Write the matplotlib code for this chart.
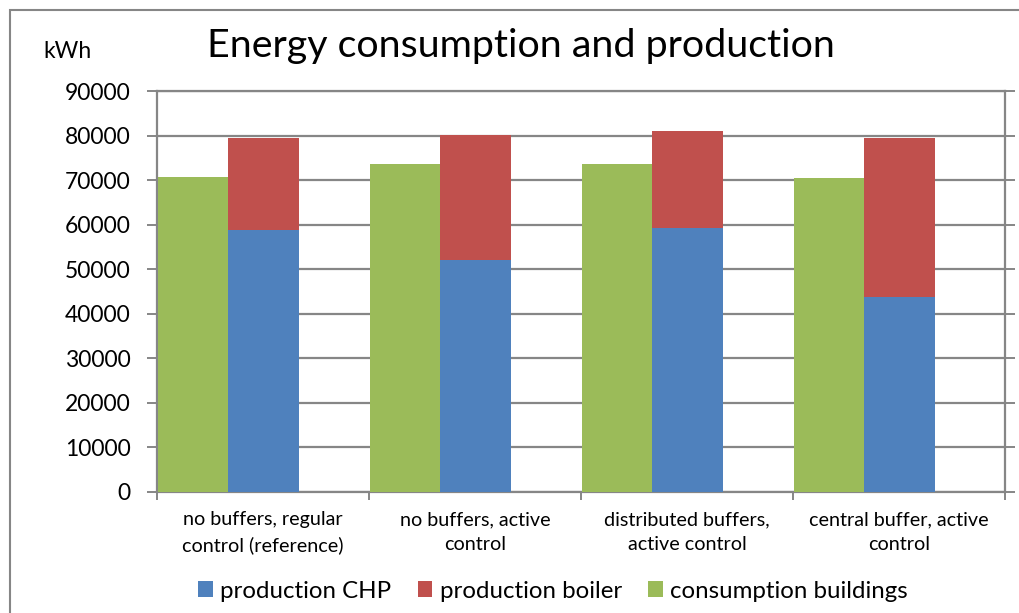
import matplotlib
matplotlib.use("Agg")
import matplotlib.pyplot as plt
from matplotlib.patches import Rectangle
import numpy as np

categories = ["no buffers, regular\ncontrol (reference)", "no buffers, active\ncontrol",
              "distributed buffers,\nactive control", "central buffer, active\ncontrol"]
consumption = [70650, 73650, 73650, 70550]
chp = [58800, 52100, 59200, 43700]
total_prod = [79350, 80100, 81050, 79550]
boiler = [t - c for t, c in zip(total_prod, chp)]
yticks = [0, 10000, 20000, 30000, 40000, 50000, 60000, 70000, 80000, 90000]

C_CHP = "#4F81BD"
C_BOIL = "#C0504D"
C_CONS = "#9BBB59"
GRID = "#868686"

plt.rcParams['font.family'] = ['Lato', 'DejaVu Sans']

W, H = 1020, 613
fig = plt.figure(figsize=(W / 100, H / 100), dpi=100)
L, R, T, B = 157, 1005, 91, 492
ax = fig.add_axes([L / W, 1 - B / H, (R - L) / W, (B - T) / H])

n = len(categories)
x = np.arange(n)
bw = 0.333
ax.bar(x + 0.004, consumption, width=bw, align='edge', color=C_CONS, zorder=3,
       label='consumption buildings')
ax.bar(x + 0.004 + bw, chp, width=bw, align='edge', color=C_CHP, zorder=3,
       label='production CHP')
ax.bar(x + 0.004 + bw, boiler, bottom=chp, width=bw, align='edge', color=C_BOIL, zorder=3,
       label='production boiler')

ax.set_xlim(0, n)
ax.set_ylim(0, 90000)
ax.set_yticks(yticks)
ax.set_yticklabels([str(v) for v in yticks], fontsize=16.5)
ax.yaxis.grid(True, color=GRID, linewidth=1.6, zorder=0)
ax.set_axisbelow(True)
ax.set_xticks(np.arange(n + 1))
ax.set_xticklabels([])
ax.set_xticks(x + 0.5, minor=True)
ax.set_xticklabels(categories, minor=True, fontsize=14.2, linespacing=1.55)
ax.tick_params(axis='x', which='minor', length=0, pad=14)
ax.tick_params(axis='x', which='major', length=6, width=1.4, color=GRID, direction='out')
ax.tick_params(axis='y', which='major', length=7, width=1.4, color=GRID, direction='out',
               pad=12, right=True)
for s in ax.spines.values():
    s.set_color(GRID)
    s.set_linewidth(1.6)

fig.text(521 / W, 1 - 57 / H, "Energy consumption and production", fontsize=28.4,
         ha='center', va='baseline')
fig.text(68 / W, 1 - 52 / H, "kWh", fontsize=16.5, ha='center', va='center')

handles, labels = ax.get_legend_handles_labels()
order = [1, 2, 0]
leg = fig.legend([handles[i] for i in order], [labels[i] for i in order],
                 loc='center', bbox_to_anchor=(553 / W, 1 - 591 / H), ncol=3,
                 frameon=False, fontsize=17.3, handlelength=0.62, handleheight=0.62,
                 handletextpad=0.3, columnspacing=1.1, borderpad=0)

fig.patches.append(Rectangle((10 / W, -0.1), 1.2, 1.1 - 10 / H, transform=fig.transFigure,
                             fill=False, edgecolor=GRID, linewidth=1.5))

fig.savefig("out.png", dpi=100)
